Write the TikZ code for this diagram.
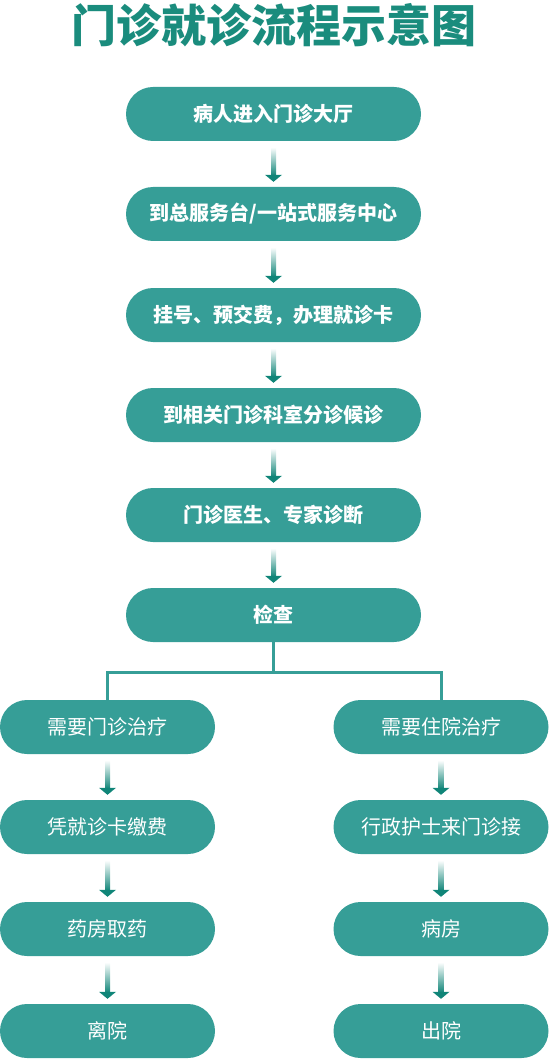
\documentclass[tikz,border=0pt]{standalone}
\usepackage{fontspec}
\usetikzlibrary{positioning,calc}

\newfontfamily\cjk{Noto Sans CJK SC}
\definecolor{boxgreen}{RGB}{54,158,151}
\definecolor{arrowgreen}{RGB}{16,133,120}
\definecolor{titlegreen}{RGB}{26,140,125}

\tikzset{
  mainbox/.style={rounded corners=27pt, fill=boxgreen, minimum width=295pt,
    minimum height=54pt, text=white, font=\cjk\bfseries\fontsize{20}{24}\selectfont},
  sidebox/.style={mainbox, minimum width=215pt, font=\cjk\fontsize{20}{24}\selectfont},
  branch/.style={draw=boxgreen, line width=3pt}
}

% shaded arrow from one box down to the next
\newcommand{\flowarrow}[2]{%
  \shade[top color=white, bottom color=arrowgreen]
    ($(#1.south)+(-2.5,-6)$) rectangle ($(#2.north)+(2.5,11)$);
  \fill[arrowgreen] ($(#2.north)+(-8.5,12)$) -- ($(#2.north)+(8.5,12)$)
    -- ($(#2.north)+(0,5)$) -- cycle;
}

\begin{document}
\begin{tikzpicture}[x=1pt,y=1pt]
  \useasboundingbox (0,0) rectangle (549,-1059);

  \node(title) [text=titlegreen, font=\cjk\bfseries\fontsize{45}{50}\selectfont] at (274,-25) {门诊就诊流程示意图};

  \node(entry)    [mainbox] at (273.5,-114) {病人进入门诊大厅};
  \node(desk)     [mainbox] at (273.5,-214) {到总服务台/一站式服务中心};
  \node(register) [mainbox] at (273.5,-315) {挂号、预交费，办理就诊卡};
  \node(wait)     [mainbox] at (273.5,-415) {到相关门诊科室分诊候诊};
  \node(doctor)   [mainbox] at (273.5,-515) {门诊医生、专家诊断};
  \node(check)    [mainbox] at (273.5,-615) {检查};

  \node(outpat) [sidebox] at (107.5,-727)  {需要门诊治疗};
  \node(pay)    [sidebox] at (107.5,-827)  {凭就诊卡缴费};
  \node(drug)   [sidebox] at (107.5,-929)  {药房取药};
  \node(leave)  [sidebox] at (107.5,-1031) {离院};

  \node(inpat)  [sidebox] at (441,-727)  {需要住院治疗};
  \node(nurse)  [sidebox] at (441,-827)  {行政护士来门诊接};
  \node(ward)   [sidebox] at (441,-929)  {病房};
  \node(out)    [sidebox] at (441,-1031) {出院};

  \foreach \a/\b in {entry/desk, desk/register, register/wait, wait/doctor,
      doctor/check, outpat/pay, pay/drug, drug/leave, inpat/nurse,
      nurse/ward, ward/out}
    {\flowarrow{\a}{\b}}

  \draw[branch] (check.south) -- ++(0,-30) coordinate(fork) -| (outpat.north);
  \draw[branch] (fork) -| (inpat.north);
\end{tikzpicture}
\end{document}
